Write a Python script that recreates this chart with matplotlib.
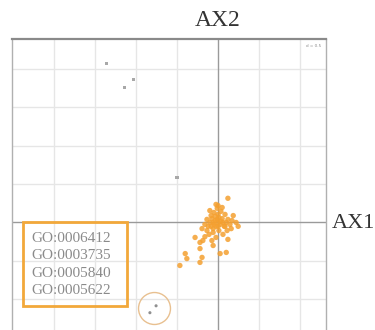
import matplotlib
matplotlib.use("Agg")
import matplotlib.pyplot as plt
from matplotlib.patches import Rectangle

# Orange sites: dense cloud near the origin plus a tail toward the lower left
orange_x = [0.00, -0.07, 0.05, -0.15, 0.10, -0.05, 0.15, -0.20, 0.20, 0.00,
            -0.10, 0.07, 0.02, -0.12, -0.24, 0.24, 0.29, 0.34, 0.17, -0.17,
            -0.27, -0.02, 0.10, -0.05, -0.12, -0.22, -0.32, -0.37, -0.27, -0.44,
            -0.15, -0.05, 0.37, 0.44, 0.32, 0.22, 0.12, -0.20, -0.32, -0.39,
            -0.02, 0.07, -0.10, 0.02, 0.12, -0.12, 0.00, -0.17, 0.17, -0.07,
            -0.56, -0.44, -0.80, -0.76, -0.93, -0.44, -0.39, -0.12, 0.05, 0.20,
            0.24, 0.49, 0.24, 0.00]
orange_y = [0.00, 0.05, -0.05, 0.10, 0.10, -0.10, -0.10, 0.00, 0.00, 0.21,
            0.26, 0.29, -0.21, -0.16, -0.10, 0.08, -0.05, 0.05, 0.21, 0.18,
            0.08, 0.37, 0.39, 0.47, -0.26, -0.31, -0.37, -0.47, -0.21, -0.52,
            -0.47, -0.39, 0.18, 0.00, -0.16, -0.21, -0.31, 0.31, -0.05, -0.16,
            0.08, 0.03, -0.05, 0.13, 0.00, 0.00, -0.10, -0.10, -0.10, 0.16,
            -0.39, -0.68, -0.81, -0.94, -1.12, -1.04, -0.91, -0.60, -0.81, -0.78,
            -0.44, -0.10, 0.63, 0.44]

# Gray sites
gray_x = [-2.71, -2.27, -2.05, -1.00]
gray_y = [4.15, 3.52, 3.73, 1.17]

# Highlighted pair and its ring
ring_x = [-1.51, -1.66]
ring_y = [-2.17, -2.35]
ring_center = (-1.56, -2.22)

go_terms = ["GO:0006412", "GO:0003735", "GO:0005840", "GO:0005622"]
grid_x = [-4, -3, -2, -1, 1, 2]
grid_y = [-2, -1, 1, 2, 3, 4]

ORANGE = "#F4A030"
SERIF = ["Liberation Serif", "DejaVu Serif"]

fig = plt.figure(figsize=(3.75, 3.3), dpi=100)
ax = fig.add_axes([12 / 375, -0.05, (326 - 12) / 375, 0.882 + 0.05])
ax.set_xlim(-5.02, 2.63)
ax.set_ylim(-3.23, 4.78)
ax.set_xticks([])
ax.set_yticks([])

for gx in grid_x:
    ax.axvline(gx, color="#e6e6e6", lw=1.0, zorder=0)
for gy in grid_y:
    ax.axhline(gy, color="#e6e6e6", lw=1.0, zorder=0)
ax.axvline(0, color="#9a9a9a", lw=1.0, zorder=1)
ax.axhline(0, color="#9a9a9a", lw=1.0, zorder=1)

for side in ("left", "right", "bottom"):
    ax.spines[side].set_color("#b0b0b0")
    ax.spines[side].set_linewidth(1.0)
ax.spines["top"].set_color("#8a8a8a")
ax.spines["top"].set_linewidth(1.6)

ax.scatter(orange_x, orange_y, s=15, color=ORANGE, alpha=0.85,
           edgecolors="none", zorder=3)
ax.scatter(gray_x, gray_y, s=5, color="#a8a8a8", marker="s",
           edgecolors="none", zorder=3)
ax.scatter(ring_x, ring_y, s=5, color="#909090", edgecolors="none", zorder=3)
ax.plot([ring_center[0]], [ring_center[1]], marker="o", ms=23, mfc="none",
        mec="#E8C090", mew=1.0, zorder=3)

# GO term box
ax.add_patch(Rectangle((-4.76, -2.17), 2.54, 2.17, fill=False,
                       edgecolor="#F2A83A", lw=2.0, zorder=4))
for i, term in enumerate(go_terms):
    ax.text(-4.56, -0.42 - 0.45 * i, term, fontsize=11, family=SERIF,
            color="#8a8a8a", va="center", ha="left", zorder=5)

ax.text(0.985, 0.985, "d = 0.5", transform=ax.transAxes, fontsize=3,
        color="#888888", ha="right", va="top")

fig.text(218 / 375, 1 - 21 / 330, "AX2", fontsize=17, family=SERIF,
         color="#333333", ha="center", va="center")
fig.text(332 / 375, 1 - 223 / 330, "AX1", fontsize=16, family=SERIF,
         color="#333333", ha="left", va="center")

fig.savefig("out.png", dpi=100)
